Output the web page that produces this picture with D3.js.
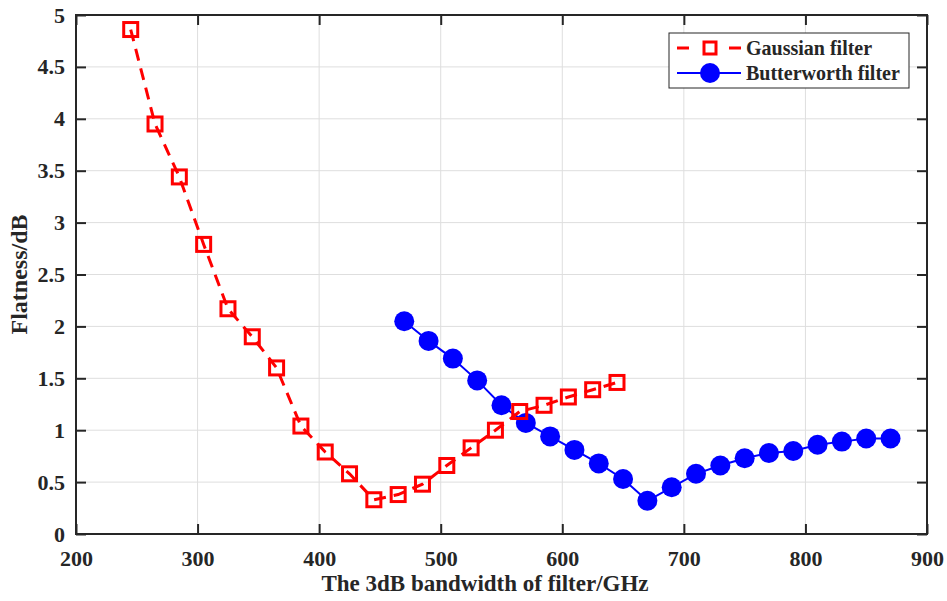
<!DOCTYPE html>
<html>
<head>
<meta charset="utf-8">
<script src="https://cdn.jsdelivr.net/npm/d3@7"></script>
<style>
  body { margin: 0; background: #fff; }
  text { font-family: "Liberation Serif", "Times New Roman", serif; font-weight: bold; fill: #262626; }
</style>
</head>
<body>
<svg id="chart" width="947" height="601"></svg>
<script>
const gaussX = [245, 265, 285, 305, 325, 345, 365, 385, 405, 425, 445, 465, 485, 505, 525, 545, 565, 585, 605, 625, 645];
const gaussY = [4.86, 3.95, 3.44, 2.79, 2.17, 1.90, 1.60, 1.04, 0.79, 0.58, 0.33, 0.38, 0.48, 0.66, 0.83, 1.00, 1.18, 1.24, 1.32, 1.39, 1.46];
const butterX = [470, 490, 510, 530, 550, 570, 590, 610, 630, 650, 670, 690, 710, 730, 750, 770, 790, 810, 830, 850, 870];
const butterY = [2.05, 1.86, 1.69, 1.48, 1.24, 1.07, 0.94, 0.81, 0.68, 0.53, 0.32, 0.45, 0.58, 0.66, 0.73, 0.78, 0.80, 0.86, 0.89, 0.92, 0.92];
const xTicks = [200, 300, 400, 500, 600, 700, 800, 900];
const yTicks = [0, 0.5, 1, 1.5, 2, 2.5, 3, 3.5, 4, 4.5, 5];

const width = 947, height = 601;
const margin = { top: 15, right: 20, bottom: 67, left: 76 };
const innerWidth = width - margin.left - margin.right;
const innerHeight = height - margin.top - margin.bottom;

const svg = d3.select("#chart");
const g = svg.append("g").attr("transform", `translate(${margin.left},${margin.top})`);

const x = d3.scaleLinear().domain([200, 900]).range([0, innerWidth]);
const y = d3.scaleLinear().domain([0, 5]).range([innerHeight, 0]);

// grid
g.append("g").selectAll("line").data(xTicks).join("line")
    .attr("x1", d => x(d)).attr("x2", d => x(d))
    .attr("y1", 0).attr("y2", innerHeight)
    .attr("stroke", "#dedede").attr("stroke-width", 1);
g.append("g").selectAll("line").data(yTicks).join("line")
    .attr("y1", d => y(d)).attr("y2", d => y(d))
    .attr("x1", 0).attr("x2", innerWidth)
    .attr("stroke", "#dedede").attr("stroke-width", 1);

const axisColor = "#262626";
const fmt = d => String(d);
const styleAxis = sel => {
    sel.attr("font-family", null).attr("font-size", null);
    sel.select(".domain").remove();
    sel.selectAll(".tick line").attr("stroke", axisColor).attr("stroke-width", 2);
    sel.selectAll(".tick text").style("font-size", "22px").attr("fill", axisColor);
};

g.append("g")
    .attr("transform", `translate(0,${innerHeight})`)
    .call(d3.axisBottom(x).tickValues(xTicks).tickFormat(fmt).tickSizeInner(-10).tickSizeOuter(0).tickPadding(16))
    .call(styleAxis);
g.append("g")
    .call(d3.axisTop(x).tickValues(xTicks).tickSizeInner(-10).tickSizeOuter(0))
    .call(styleAxis)
    .selectAll(".tick text").remove();
g.append("g")
    .call(d3.axisLeft(y).tickValues(yTicks).tickFormat(fmt).tickSizeInner(-10).tickSizeOuter(0).tickPadding(11))
    .call(styleAxis);
g.append("g")
    .attr("transform", `translate(${innerWidth},0)`)
    .call(d3.axisRight(y).tickValues(yTicks).tickSizeInner(-10).tickSizeOuter(0))
    .call(styleAxis)
    .selectAll(".tick text").remove();

g.append("rect")
    .attr("width", innerWidth).attr("height", innerHeight)
    .attr("fill", "none").attr("stroke", axisColor).attr("stroke-width", 2);

// series
const gauss = gaussX.map((d, i) => [d, gaussY[i]]);
const butter = butterX.map((d, i) => [d, butterY[i]]);
const line = d3.line().x(d => x(d[0])).y(d => y(d[1]));

g.append("path").datum(butter)
    .attr("d", line).attr("fill", "none")
    .attr("stroke", "#0000ff").attr("stroke-width", 2);
g.append("g").selectAll("circle").data(butter).join("circle")
    .attr("cx", d => x(d[0])).attr("cy", d => y(d[1])).attr("r", 10)
    .attr("fill", "#0000ff");

g.append("path").datum(gauss)
    .attr("d", line).attr("fill", "none")
    .attr("stroke", "#ff0000").attr("stroke-width", 3)
    .attr("stroke-dasharray", "12,8");
g.append("g").selectAll("rect").data(gauss).join("rect")
    .attr("x", d => x(d[0]) - 7).attr("y", d => y(d[1]) - 7)
    .attr("width", 14).attr("height", 14)
    .attr("fill", "none").attr("stroke", "#ff0000").attr("stroke-width", 3);

// axis labels
svg.append("text")
    .attr("x", 485).attr("y", 591)
    .attr("text-anchor", "middle").style("font-size", "23px")
    .text("The 3dB bandwidth of filter/GHz");
svg.append("text")
    .attr("transform", `translate(27,${margin.top + innerHeight / 2}) rotate(-90)`)
    .attr("text-anchor", "middle").style("font-size", "24px")
    .text("Flatness/dB");

// legend
const legend = svg.append("g").attr("transform", "translate(669,33)");
legend.append("rect").attr("width", 240).attr("height", 55)
    .attr("fill", "#fff").attr("stroke", axisColor).attr("stroke-width", 1);
legend.append("line").attr("x1", 8).attr("x2", 72).attr("y1", 15).attr("y2", 15)
    .attr("stroke", "#ff0000").attr("stroke-width", 3).attr("stroke-dasharray", "12,14");
legend.append("rect").attr("x", 35).attr("y", 9).attr("width", 12).attr("height", 12)
    .attr("fill", "#fff").attr("stroke", "#ff0000").attr("stroke-width", 3);
legend.append("text").attr("x", 77).attr("y", 22).style("font-size", "20px").text("Gaussian filter");
legend.append("line").attr("x1", 8).attr("x2", 72).attr("y1", 40).attr("y2", 40)
    .attr("stroke", "#0000ff").attr("stroke-width", 2);
legend.append("circle").attr("cx", 41).attr("cy", 40).attr("r", 10).attr("fill", "#0000ff");
legend.append("text").attr("x", 77).attr("y", 47).style("font-size", "20px").text("Butterworth filter");
</script>
</body>
</html>
